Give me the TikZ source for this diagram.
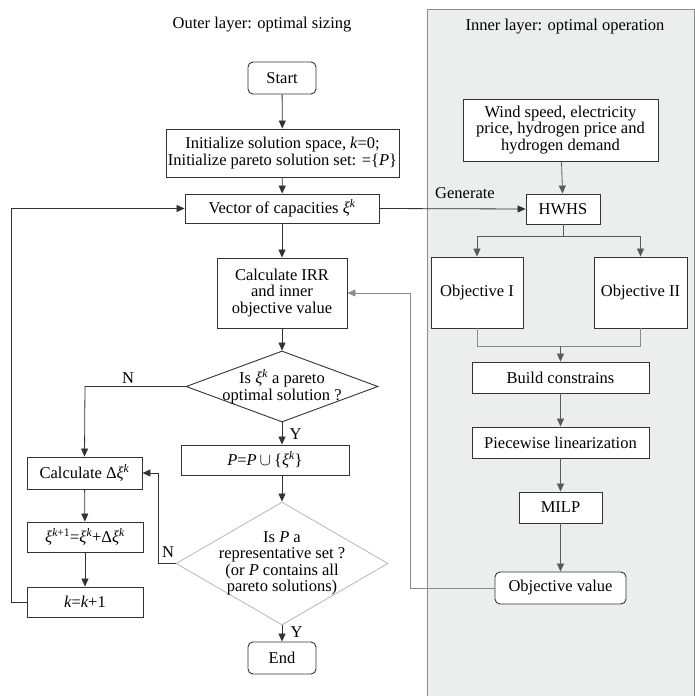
\documentclass[tikz,border=0pt]{standalone}
\usepackage{fontspec}
\setmainfont{Liberation Serif}
\usetikzlibrary{shapes.geometric,arrows.meta}
\definecolor{panelfill}{HTML}{ECEEEE}
\definecolor{panelline}{HTML}{8C8C8C}
\definecolor{lineA}{HTML}{333333}
\definecolor{lineB}{HTML}{5A5A5A}
\definecolor{lineC}{HTML}{8A8A8A}
\definecolor{diaC}{HTML}{BDBDBD}
\newcommand{\xik}{{\itshape ξ}\textsuperscript{\itshape k}}
\tikzset{
  box/.style={draw=lineA, line width=0.9pt, fill=white, inner sep=1pt, align=center, font=\fontsize{16.5}{16.5}\selectfont},
  rbox/.style={box, rounded corners=5pt},
  dia/.style={diamond, draw=lineA, line width=0.9pt, fill=white, inner sep=0pt, aspect=1},
  txt/.style={align=center, font=\fontsize{16.5}{16.5}\selectfont},
  arr/.style={-{Triangle[length=8pt,width=7pt]}, draw=lineA, line width=0.8pt},
  ln/.style={draw=lineA, line width=0.8pt},
}
\begin{document}
\begin{tikzpicture}[x=1pt,y=-1pt]
\useasboundingbox (0,0) rectangle (694,696);
% panel
\path[fill=panelfill, draw=panelline, line width=0.8pt] (427,9) -- (694,9) -- (694,697) -- (427,697) -- cycle;
\node[txt] (t1) at (262,25) {Outer layer: optimal sizing};
\node[txt] (t2) at (565,27) {Inner layer: optimal operation};

% left column
\node[rbox, minimum width=68, minimum height=32] (start) at (282,78) {Start};
\node[box, minimum width=233, minimum height=48] (init) at (282.5,153) {Initialize solution space, {\itshape k}=0;\\Initialize pareto solution set: =\{{\itshape P}\}};
\node[box, minimum width=194, minimum height=29] (vec) at (282,208.5) {Vector of capacities \xik};
\node[box, minimum width=130, minimum height=70] (irr) at (282,293) {Calculate IRR\\and inner\\objective value};
\node[dia, minimum width=192, minimum height=71] (d1) at (282,386.5) {};
\node[txt] (d1t) at (282,386.5) {Is \xik{} a pareto\\optimal solution ?};
\node[box, minimum width=168, minimum height=30] (pbox) at (265,460) {{\itshape P}={\itshape P}$\,\cup\,$\{\xik\}};
\node[dia, draw=diaC, minimum width=212, minimum height=123] (d2) at (282,563.5) {};
\node[txt] (d2t) at (282,563.5) {Is {\itshape P} a\\representative set ?\\(or {\itshape P} contains all\\pareto solutions)};
\node[rbox, minimum width=68, minimum height=32] (end) at (282,658) {End};

\node[box, minimum width=115, minimum height=32] (cd) at (84.5,473) {Calculate Δ\xik};
\node[box, minimum width=116, minimum height=30] (xi) at (85,537) {{\itshape ξ}\textsuperscript{{\itshape k}+1}={\itshape ξ}\textsuperscript{\itshape k}+Δ{\itshape ξ}\textsuperscript{\itshape k}};
\node[box, minimum width=116, minimum height=30] (kk) at (85,602) {{\itshape k}={\itshape k}+1};

% right column
\node[box, minimum width=195, minimum height=62] (wind) at (560.5,130) {Wind speed, electricity\\price, hydrogen price and\\hydrogen demand};
\node[box, minimum width=74, minimum height=30] (hwhs) at (563,209) {HWHS};
\node[box, minimum width=92, minimum height=71] (o1) at (477,292.5) {Objective I};
\node[box, minimum width=93, minimum height=71] (o2) at (640.5,292.5) {Objective II};
\node[box, minimum width=177, minimum height=31] (build) at (560.5,377.5) {Build constrains};
\node[box, minimum width=177, minimum height=31] (pw) at (560.5,442.5) {Piecewise linearization};
\node[box, minimum width=83, minimum height=31] (milp) at (560.5,507.5) {MILP};
\node[rbox, minimum width=131, minimum height=32] (ov) at (560.5,588) {Objective value};

% coordinates
\coordinate (split) at (563,236);
\coordinate (merge) at (560.5,346);
\coordinate (fbx) at (410,588);
\coordinate (loopx) at (11,602);
\coordinate (n1) at (85,386.5);
\coordinate (n2) at (158,563.5);

% left connectors
\draw[arr] (start) -- (init);
\draw[arr] (init) -- (vec);
\draw[arr] (vec) -- (irr);
\draw[arr] (irr) -- (d1);
\draw[arr] (d1.south) -- (d1.south |- pbox.north);
\node[txt, anchor=west] (y1) at (286,434) {Y};
\draw[arr] (d1.west) -- (n1) -- (cd.north);
\node[txt] (nl1) at (128,378) {N};
\draw[arr] (d2.north |- pbox.south) -- (d2.north);
\draw[ln] (d2.west) -- (n2);
\draw[arr] (n2) |- (cd.east);
\node[txt] (nl2) at (168,552) {N};
\draw[arr] (d2.south) -- (end);
\node[txt, anchor=west] (y2) at (287,632) {Y};
\draw[arr] (cd) -- (xi);
\draw[arr] (xi) -- (kk);
\draw[arr] (kk.west) -- (loopx) |- (vec.west);

% cross connector
\draw[arr] (vec.east) -- (hwhs.west);
\node[txt] (gen) at (465,193) {Generate};

% right connectors
\draw[arr, draw=lineB] (wind) -- (hwhs);
\draw[ln, draw=lineB] (hwhs.south) -- (split);
\draw[arr, draw=lineB] (split) -| (o1.north);
\draw[arr, draw=lineB] (split) -| (o2.north);
\draw[ln, draw=lineC] (o1.south) |- (merge);
\draw[ln, draw=lineC] (o2.south) |- (merge);
\draw[arr, draw=lineB] (merge) -- (build.north);
\draw[arr, draw=lineB] (build) -- (pw);
\draw[arr, draw=lineB] (pw) -- (milp);
\draw[arr, draw=lineB] (milp) -- (ov);
\draw[ln, draw=lineC] (ov.west) -- (fbx);
\draw[arr, draw=lineC] (fbx) |- (irr.east);
\end{tikzpicture}
\end{document}
